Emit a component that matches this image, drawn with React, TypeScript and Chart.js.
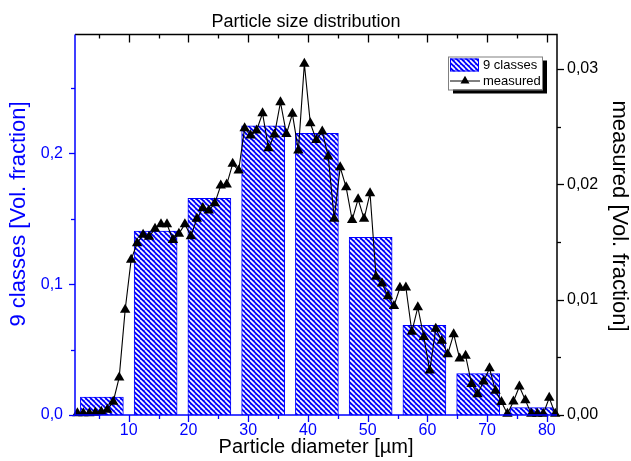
import React, { useEffect, useRef } from "react";
import { Chart, registerables } from "chart.js";

Chart.register(...registerables);

// ---- data ----
const classCenters = [5.5, 14.5, 23.5, 32.5, 41.5, 50.5, 59.5, 68.5, 77.5];
const classValues = [0.0137, 0.1406, 0.1658, 0.2212, 0.2154, 0.1358, 0.0686, 0.0316, 0.0056];

const measuredX = [
  1.4, 2.4, 3.4, 4.4, 5.4, 6.4, 7.4, 8.4, 9.4, 10.4,
  11.4, 12.4, 13.4, 14.4, 15.4, 16.4, 17.4, 18.4, 19.4, 20.4,
  21.4, 22.4, 23.4, 24.4, 25.4, 26.4, 27.4, 28.4, 29.4, 30.4,
  31.4, 32.4, 33.4, 34.4, 35.4, 36.4, 37.4, 38.4, 39.4, 40.4,
  41.4, 42.4, 43.4, 44.4, 45.4, 46.4, 47.4, 48.4, 49.4, 50.4,
  51.4, 52.4, 53.4, 54.4, 55.4, 56.4, 57.4, 58.4, 59.4, 60.4,
  61.4, 62.4, 63.4, 64.4, 65.4, 66.4, 67.4, 68.4, 69.4, 70.4,
  71.4, 72.4, 73.4, 74.4, 75.4, 76.4, 77.4, 78.4, 79.4, 80.4,
  81.4,
];
const measuredY = [
  0.00015, 0.00015, 0.00015, 0.00019, 0.00028, 0.00045, 0.00115, 0.00326, 0.00913, 0.01347,
  0.0149, 0.01564, 0.01547, 0.01616, 0.01655, 0.01655, 0.01518, 0.01573, 0.01655, 0.01551,
  0.01701, 0.01796, 0.01773, 0.01836, 0.0199, 0.01998, 0.02178, 0.0212, 0.02487, 0.02424,
  0.02467, 0.02617, 0.02313, 0.02432, 0.02713, 0.02438, 0.02612, 0.02293, 0.03046, 0.0253,
  0.02386, 0.02458, 0.02241, 0.01701, 0.02148, 0.01975, 0.01692, 0.01872, 0.01701, 0.01924,
  0.012, 0.01141, 0.0103, 0.00945, 0.01104, 0.01106, 0.00722, 0.00935, 0.00676, 0.00386,
  0.00748, 0.00644, 0.00527, 0.00701, 0.0049, 0.00514, 0.00268, 0.00181, 0.0029, 0.00405,
  0.0021, 0.00112, 0.0001, 0.00117, 0.00247, 0.00129, 0.0001, 0.0001, 0.0001, 0.00149,
  0.0001,
];

const chartTitle = "Particle size distribution";
const xTitle = "Particle diameter [µm]";
const yLeftTitle = "9 classes [Vol. fraction]";
const yRightTitle = "measured [Vol. fraction]";
const legendLabels = ["9 classes", "measured"];

const BLUE = "#0000ff";
const FONT = "'Liberation Sans', Arial, sans-serif";

function makeHatch(): CanvasPattern | string {
  const s = 5;
  const c = document.createElement("canvas");
  c.width = s;
  c.height = s;
  const g = c.getContext("2d");
  if (!g) return BLUE;
  g.fillStyle = BLUE;
  g.fillRect(0, 0, s, s);
  g.strokeStyle = "#ffffff";
  g.lineWidth = 1.7;
  for (const o of [-s, 0, s]) {
    g.beginPath();
    g.moveTo(o, 0);
    g.lineTo(o + s, s);
    g.stroke();
  }
  return g.createPattern(c, "repeat") || BLUE;
}

const isMult = (v: number, step: number) => Math.abs(v / step - Math.round(v / step)) < 1e-6;

export default function App() {
  const ref = useRef<HTMLCanvasElement>(null);

  useEffect(() => {
    const hatch = makeHatch();

    const framePlugin = {
      id: "frame",
      afterDatasetsDraw(chart: any) {
        const { ctx, chartArea: a, scales } = chart;
        const x = scales.x, y = scales.y, y1 = scales.y1;
        ctx.save();
        ctx.lineWidth = 1.3;
        for (const t of x.ticks) {
          const px = Math.round(x.getPixelForValue(t.value)) + 0.5;
          const major = isMult(t.value, 10);
          ctx.strokeStyle = BLUE;
          ctx.beginPath();
          ctx.moveTo(px, a.bottom);
          ctx.lineTo(px, a.bottom + (major ? 7 : 4));
          ctx.stroke();
          ctx.strokeStyle = "#000";
          ctx.beginPath();
          ctx.moveTo(px, a.top);
          ctx.lineTo(px, a.top + (major ? 8 : 4));
          ctx.stroke();
        }
        for (const t of y.ticks) {
          const py = Math.round(y.getPixelForValue(t.value)) + 0.5;
          const major = isMult(t.value, 0.1);
          ctx.strokeStyle = BLUE;
          ctx.beginPath();
          ctx.moveTo(a.left, py);
          ctx.lineTo(a.left - (major ? 6 : 4), py);
          ctx.stroke();
        }
        for (const t of y1.ticks) {
          const py = Math.round(y1.getPixelForValue(t.value)) + 0.5;
          const major = isMult(t.value, 0.01);
          ctx.strokeStyle = "#000";
          ctx.beginPath();
          ctx.moveTo(a.right, py);
          ctx.lineTo(a.right + (major ? 7 : 4), py);
          ctx.stroke();
        }
        ctx.lineWidth = 1.5;
        ctx.strokeStyle = "#000";
        ctx.beginPath();
        ctx.moveTo(a.left, a.top);
        ctx.lineTo(a.right, a.top);
        ctx.lineTo(a.right, a.bottom);
        ctx.stroke();
        ctx.strokeStyle = BLUE;
        ctx.beginPath();
        ctx.moveTo(a.left, a.top);
        ctx.lineTo(a.left, a.bottom);
        ctx.lineTo(a.right, a.bottom);
        ctx.stroke();
        ctx.restore();
      },
      afterDraw(chart: any) {
        const { ctx, chartArea: a } = chart;
        ctx.save();
        // chart title
        ctx.fillStyle = "#000";
        ctx.font = `18px ${FONT}`;
        ctx.textAlign = "center";
        ctx.textBaseline = "middle";
        ctx.fillText(chartTitle, 306, 22);
        // left axis title
        ctx.save();
        ctx.translate(19, 214);
        ctx.rotate(-Math.PI / 2);
        ctx.fillStyle = BLUE;
        ctx.font = `22px ${FONT}`;
        ctx.fillText(yLeftTitle, 0, 0);
        ctx.restore();
        // right axis title
        ctx.save();
        ctx.translate(619, 216);
        ctx.rotate(Math.PI / 2);
        ctx.fillStyle = "#000";
        ctx.font = `22px ${FONT}`;
        ctx.fillText(yRightTitle, 0, 0);
        ctx.restore();

        // legend
        const lx = a.right - 109, ly = a.top + 22, lw = 94, lh = 33;
        ctx.fillStyle = "#000";
        ctx.fillRect(lx + 5, ly + 4, lw, lh);
        ctx.fillStyle = "#fff";
        ctx.fillRect(lx, ly, lw, lh);
        ctx.strokeStyle = "#808080";
        ctx.lineWidth = 1;
        ctx.strokeRect(lx + 0.5, ly + 0.5, lw, lh);
        ctx.fillStyle = hatch;
        ctx.fillRect(lx + 2, ly + 2, 29, 13);
        ctx.strokeStyle = BLUE;
        ctx.strokeRect(lx + 2.5, ly + 2.5, 28, 12);
        const my = ly + 24.5;
        ctx.strokeStyle = "#000";
        ctx.beginPath();
        ctx.moveTo(lx + 2, my);
        ctx.lineTo(lx + 32, my);
        ctx.stroke();
        const cx = lx + 17, r = 5.2;
        ctx.fillStyle = "#000";
        ctx.beginPath();
        ctx.moveTo(cx, my - r);
        ctx.lineTo(cx + r * 0.866, my + r / 2);
        ctx.lineTo(cx - r * 0.866, my + r / 2);
        ctx.closePath();
        ctx.fill();
        ctx.font = `13px ${FONT}`;
        ctx.textBaseline = "middle";
        ctx.textAlign = "left";
        ctx.fillText(legendLabels[0], lx + 35, ly + 9);
        ctx.fillText(legendLabels[1], lx + 35, my);
        ctx.restore();
      },
    };

    const chart = new Chart(ref.current as HTMLCanvasElement, {
      type: "bar",
      data: {
        datasets: [
          {
            type: "line",
            label: legendLabels[1],
            data: measuredX.map((x, i) => ({ x, y: measuredY[i] })),
            yAxisID: "y1",
            borderColor: "#000",
            borderWidth: 1.1,
            backgroundColor: "#000",
            pointStyle: "triangle",
            pointRadius: 6,
            pointBorderWidth: 0,
            pointBackgroundColor: "#000",
            tension: 0,
            clip: false,
            order: 0,
          } as any,
          {
            type: "bar",
            label: legendLabels[0],
            data: classCenters.map((x, i) => ({ x, y: classValues[i] })),
            yAxisID: "y",
            backgroundColor: hatch as any,
            borderColor: BLUE,
            borderWidth: 1,
            barThickness: "flex",
            categoryPercentage: 0.8,
            barPercentage: 1,
            order: 1,
          } as any,
        ],
      },
      options: {
        responsive: false,
        maintainAspectRatio: false,
        animation: false,
        layout: { padding: { top: 34.5 } },
        plugins: {
          legend: { display: false },
          tooltip: { enabled: false },
          title: { display: false },
        },
        scales: {
          x: {
            type: "linear",
            min: 1,
            max: 81.7,
            offset: false,
            grid: { display: false, drawTicks: false },
            border: { display: false },
            ticks: {
              stepSize: 5,
              includeBounds: false,
              autoSkip: false,
              maxRotation: 0,
              color: BLUE,
              padding: 6,
              font: { family: FONT, size: 16 },
              callback: (v: any) => (isMult(Number(v), 10) ? String(v) : ""),
            },
            title: {
              display: true,
              text: xTitle,
              color: "#000",
              font: { family: FONT, size: 20 },
              padding: { top: 0, bottom: 2 },
            },
            afterFit: (s: any) => {
              s.height = 46;
            },
          } as any,
          y: {
            position: "left",
            min: 0,
            max: 0.291,
            grid: { display: false, drawTicks: false },
            border: { display: false },
            ticks: {
              stepSize: 0.05,
              includeBounds: false,
              autoSkip: false,
              color: BLUE,
              padding: 12,
              font: { family: FONT, size: 16 },
              callback: (v: any) => (isMult(Number(v), 0.1) ? Number(v).toFixed(1).replace(".", ",") : ""),
            },
            afterFit: (s: any) => {
              s.width = 75;
            },
          } as any,
          y1: {
            position: "right",
            min: 0,
            max: 0.033,
            grid: { display: false, drawTicks: false },
            border: { display: false },
            ticks: {
              stepSize: 0.005,
              includeBounds: false,
              autoSkip: false,
              color: "#000",
              padding: 10,
              font: { family: FONT, size: 16 },
              callback: (v: any) => (isMult(Number(v), 0.01) ? Number(v).toFixed(2).replace(".", ",") : ""),
            },
            afterFit: (s: any) => {
              s.width = 74;
            },
          } as any,
        },
      },
      plugins: [framePlugin as any],
    });

    return () => chart.destroy();
  }, []);

  return (
    <div style={{ position: "absolute", left: 0, top: 0, width: 631, height: 461, background: "#fff" }}>
      <canvas ref={ref} width={631} height={461} style={{ display: "block", width: 631, height: 461 }} />
    </div>
  );
}
